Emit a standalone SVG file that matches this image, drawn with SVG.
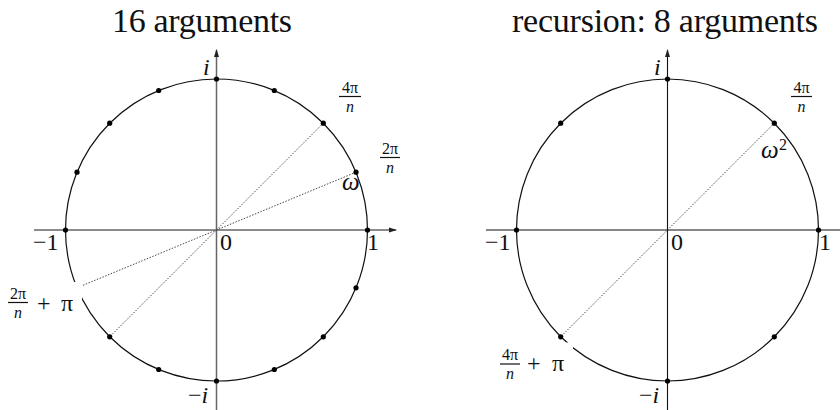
<svg xmlns="http://www.w3.org/2000/svg" width="840" height="410" viewBox="0 0 840 410">
<defs>
<marker id="arr" viewBox="0 0 8 6" refX="7" refY="3" markerWidth="8" markerHeight="6" markerUnits="userSpaceOnUse" orient="auto">
<path d="M0,0.5 L8,3 L0,5.5 Z" fill="#222"/>
</marker>
<style>
.title{font-family:"Liberation Serif",serif;font-size:34px;fill:#111;text-anchor:middle}
.lbl{font-family:"Liberation Serif",serif;font-size:24px;fill:#111}
.it{font-style:italic}
.fr{font-family:"Liberation Serif",serif;font-size:16px;fill:#111;text-anchor:middle}
.axL{stroke:#666;stroke-width:1.5;fill:none}
.axR{stroke:#111;stroke-width:1.1;fill:none}
.circ{stroke:#111;stroke-width:1.2;fill:none}
.dot{fill:#000}
.dash{stroke:#333;stroke-width:0.9;stroke-dasharray:1.5 1.5;fill:none}
.bar{stroke:#111;stroke-width:1.2}
.mask{fill:#fff}
</style>
</defs>
<rect width="840" height="410" fill="#fff"/>

<text class="title" x="202" y="32" textLength="180" lengthAdjust="spacing">16 arguments</text>
<text class="title" x="665" y="32" textLength="306" lengthAdjust="spacing">recursion: 8 arguments</text>

<g id="left-diagram">
<g id="left-axes">
<line class="axL" x1="34" y1="230" x2="396" y2="230" marker-end="url(#arr)"/>
<line class="axL" x1="216.5" y1="412" x2="216.5" y2="50" marker-end="url(#arr)"/>
</g>
<circle class="circ" cx="216.5" cy="230" r="151"/>
<g id="left-rays">
<line class="dash" x1="356" y1="172.2" x2="82" y2="285.7"/>
<line class="dash" x1="323.3" y1="123.2" x2="109.7" y2="336.8"/>
</g>
<g id="left-points">
<circle class="dot" cx="367.5" cy="230" r="2.6"/>
<circle class="dot" cx="356" cy="172.2" r="2.6"/>
<circle class="dot" cx="323.3" cy="123.2" r="2.6"/>
<circle class="dot" cx="274.3" cy="90.5" r="2.6"/>
<circle class="dot" cx="216.5" cy="79" r="2.6"/>
<circle class="dot" cx="158.7" cy="90.5" r="2.6"/>
<circle class="dot" cx="109.7" cy="123.2" r="2.6"/>
<circle class="dot" cx="77" cy="172.2" r="2.6"/>
<circle class="dot" cx="65.5" cy="230" r="2.6"/>
<circle class="dot" cx="109.7" cy="336.8" r="2.6"/>
<circle class="dot" cx="158.7" cy="369.5" r="2.6"/>
<circle class="dot" cx="216.5" cy="381" r="2.6"/>
<circle class="dot" cx="274.3" cy="369.5" r="2.6"/>
<circle class="dot" cx="323.3" cy="336.8" r="2.6"/>
<circle class="dot" cx="356" cy="287.8" r="2.6"/>
</g>
<g id="left-labels">
<text class="lbl it" x="203" y="75">i</text>
<text class="lbl" x="33" y="250">−1</text>
<text class="lbl" x="220" y="250">0</text>
<text class="lbl" x="367" y="250">1</text>
<text class="lbl" x="188" y="403">−<tspan class="it">i</tspan></text>
<text class="lbl it" x="342" y="190" style="font-size:25px">ω</text>
<g id="lbl-4pi-n-left">
<text class="fr" x="350" y="93">4π</text>
<line class="bar" x1="339" y1="96.5" x2="361" y2="96.5"/>
<text class="fr it" x="350" y="112">n</text>
</g>
<g id="lbl-2pi-n">
<text class="fr" x="390" y="154">2π</text>
<line class="bar" x1="380" y1="157.5" x2="400" y2="157.5"/>
<text class="fr it" x="390" y="173">n</text>
</g>
<g id="lbl-2pi-n-plus-pi">
<rect class="mask" x="0" y="282" width="82" height="40"/>
<text class="fr" x="18" y="299">2π</text>
<line class="bar" x1="8" y1="302.5" x2="28" y2="302.5"/>
<text class="fr it" x="18" y="318">n</text>
<text class="lbl"><tspan x="37" y="311">+</tspan><tspan x="61" y="311">π</tspan></text>
</g>
</g>
</g>

<g id="right-diagram">
<g id="right-axes">
<line class="axR" x1="486" y1="230" x2="842" y2="230"/>
<line class="axR" x1="667.5" y1="412" x2="667.5" y2="50" marker-end="url(#arr)"/>
</g>
<circle class="circ" cx="667.5" cy="230" r="151"/>
<g id="right-rays">
<line class="dash" x1="774.3" y1="123.2" x2="560.7" y2="336.8"/>
</g>
<g id="right-points">
<circle class="dot" cx="818.5" cy="230" r="2.6"/>
<circle class="dot" cx="774.3" cy="123.2" r="2.6"/>
<circle class="dot" cx="667.5" cy="79" r="2.6"/>
<circle class="dot" cx="560.7" cy="123.2" r="2.6"/>
<circle class="dot" cx="516.5" cy="230" r="2.6"/>
<circle class="dot" cx="560.7" cy="336.8" r="2.6"/>
<circle class="dot" cx="667.5" cy="381" r="2.6"/>
<circle class="dot" cx="774.3" cy="336.8" r="2.6"/>
</g>
<g id="right-labels">
<text class="lbl it" x="654" y="75">i</text>
<text class="lbl" x="485" y="250">−1</text>
<text class="lbl" x="671" y="250">0</text>
<text class="lbl" x="819" y="250">1</text>
<text class="lbl" x="639" y="403">−<tspan class="it">i</tspan></text>
<text class="lbl it" x="761" y="158" style="font-size:25px">ω</text>
<text class="fr" x="783" y="150">2</text>
<g id="lbl-4pi-n-right">
<text class="fr" x="801.5" y="93">4π</text>
<line class="bar" x1="791" y1="96.5" x2="812" y2="96.5"/>
<text class="fr it" x="801.5" y="112">n</text>
</g>
<g id="lbl-4pi-n-plus-pi">
<rect class="mask" x="495" y="342.5" width="78" height="40"/>
<text class="fr" x="510" y="359.5">4π</text>
<line class="bar" x1="500" y1="364" x2="520" y2="364"/>
<text class="fr it" x="510" y="379">n</text>
<text class="lbl"><tspan x="527" y="371">+</tspan><tspan x="552" y="371">π</tspan></text>
</g>
</g>
</g>
</svg>
